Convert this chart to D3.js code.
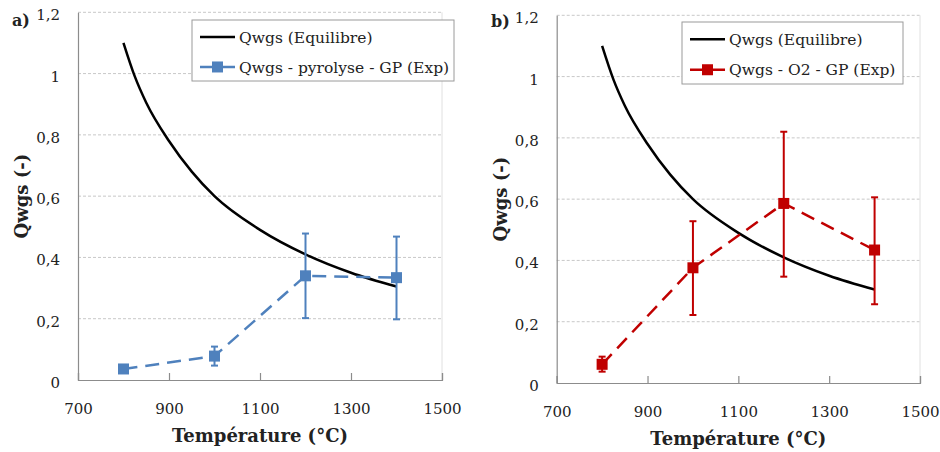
<!DOCTYPE html>
<html>
<head>
<meta charset="utf-8">
<script src="https://cdn.jsdelivr.net/npm/d3@7"></script>
<style>
  html, body { margin: 0; padding: 0; background: #fff; }
  svg { display: block; }
  text { font-family: "DejaVu Serif", serif; fill: #222; }
</style>
</head>
<body>
<svg id="chart" width="940" height="452"></svg>
<script>
// ---- Data ----
const xTicks = [700, 900, 1100, 1300, 1500];
const yTicks = [0, 0.2, 0.4, 0.6, 0.8, 1, 1.2];
const yTickLabels = ["0", "0,2", "0,4", "0,6", "0,8", "1", "1,2"];

const eqTemps = [800, 825, 850, 900, 950, 1000, 1100, 1200, 1300, 1400];
const eqValues = [1.10, 0.99, 0.905, 0.78, 0.68, 0.60, 0.49, 0.41, 0.35, 0.305];

const expTemps = [800, 1000, 1200, 1400];
const pyroValues = [0.036, 0.078, 0.340, 0.334];
const pyroErrLow = [0.036, 0.047, 0.202, 0.198];
const pyroErrHigh = [0.036, 0.109, 0.478, 0.468];

const o2Values = [0.061, 0.376, 0.586, 0.434];
const o2ErrLow = [0.037, 0.222, 0.347, 0.257];
const o2ErrHigh = [0.086, 0.528, 0.820, 0.606];

const panelLabels = ["a)", "b)"];
const legendEq = "Qwgs (Equilibre)";
const legendExp = ["Qwgs - pyrolyse - GP (Exp)", "Qwgs - O2 - GP (Exp)"];
const xTitle = "Température (°C)";
const yTitle = "Qwgs (-)";
const colors = ["#4f81bd", "#c00000"];

// ---- Drawing ----
const svg = d3.select("#chart");
const FONT = "DejaVu Serif";

function drawPanel(opt) {
  const g = svg.append("g");
  const x = d3.scaleLinear().domain([700, 1500]).range([opt.left, opt.right]);
  const y = d3.scaleLinear().domain([0, 1.2]).range([opt.bottom, opt.top]);

  // gridlines
  g.append("g").selectAll("line").data(yTicks.filter(d => d > 0)).join("line")
    .attr("x1", opt.left).attr("x2", opt.right)
    .attr("y1", d => y(d)).attr("y2", d => y(d))
    .attr("stroke", "#c8c8c8").attr("stroke-width", 1)
    .attr("stroke-dasharray", "3,2");

  // right border (faint)
  g.append("line").attr("x1", opt.right).attr("x2", opt.right)
    .attr("y1", opt.top).attr("y2", opt.bottom)
    .attr("stroke", "#e0e0e0");

  // y axis
  const yAxis = d3.axisLeft(y).tickValues(yTicks)
    .tickFormat((d, i) => yTickLabels[i]).tickSize(0).tickPadding(18);
  const ya = g.append("g").attr("transform", `translate(${opt.left},0)`).call(yAxis);
  ya.attr("font-family", FONT);
  ya.select(".domain").attr("stroke", "#8c8c8c").attr("stroke-width", 1.2);
  ya.selectAll("text").attr("font-size", 15)
    .attr("fill", "#333").attr("dy", "0.5em");

  // x axis
  const xAxis = d3.axisBottom(x).tickValues(xTicks).tickSize(-7).tickPadding(23)
    .tickFormat(d3.format("d"));
  const xa = g.append("g").attr("transform", `translate(0,${opt.bottom})`).call(xAxis);
  xa.attr("font-family", FONT);
  xa.select(".domain").attr("stroke", "#8c8c8c").attr("stroke-width", 1.2);
  xa.selectAll(".tick line").attr("stroke", "#8c8c8c").attr("stroke-width", 1.2);
  xa.selectAll("text").attr("font-size", 15).attr("fill", "#333");

  // titles
  g.append("text").attr("x", (opt.left + opt.right) / 2).attr("y", opt.bottom + 62)
    .attr("text-anchor", "middle").attr("font-weight", "bold").attr("font-size", 18)
    .attr("fill", "#111").text(xTitle);
  g.append("text")
    .attr("transform", `translate(${opt.yTitleX},${(opt.top + opt.bottom) / 2}) rotate(-90)`)
    .attr("text-anchor", "middle").attr("font-weight", "bold").attr("font-size", 18)
    .attr("fill", "#111").text(yTitle);
  g.append("text").attr("x", opt.labelX).attr("y", opt.labelY)
    .attr("font-weight", "bold").attr("font-size", 16).attr("fill", "#111").text(opt.label);

  // equilibrium curve
  const eq = eqTemps.map((t, i) => [t, eqValues[i]]);
  g.append("path").datum(eq)
    .attr("d", d3.line().x(d => x(d[0])).y(d => y(d[1])).curve(d3.curveMonotoneX))
    .attr("fill", "none").attr("stroke", "#000").attr("stroke-width", 2.5);

  // experimental
  const exp = expTemps.map((t, i) => ({ t, v: opt.values[i], lo: opt.lo[i], hi: opt.hi[i] }));
  g.append("path").datum(exp)
    .attr("d", d3.line().x(d => x(d.t)).y(d => y(d.v)))
    .attr("fill", "none").attr("stroke", opt.color).attr("stroke-width", 2.5)
    .attr("stroke-dasharray", "14,8");

  const eb = g.append("g").selectAll("g").data(exp.filter(d => d.hi > d.lo)).join("g");
  eb.append("line").attr("x1", d => x(d.t)).attr("x2", d => x(d.t))
    .attr("y1", d => y(d.lo)).attr("y2", d => y(d.hi))
    .attr("stroke", opt.color).attr("stroke-width", 2);
  [d => d.lo, d => d.hi].forEach(acc => {
    eb.append("line").attr("x1", d => x(d.t) - 3.5).attr("x2", d => x(d.t) + 3.5)
      .attr("y1", d => y(acc(d))).attr("y2", d => y(acc(d)))
      .attr("stroke", opt.color).attr("stroke-width", 2);
  });

  const ms = 11;
  g.append("g").selectAll("rect").data(exp).join("rect")
    .attr("x", d => x(d.t) - ms / 2).attr("y", d => y(d.v) - ms / 2)
    .attr("width", ms).attr("height", ms).attr("fill", opt.color);

  // legend
  const L = opt.legend;
  g.append("rect").attr("x", L.x).attr("y", L.y).attr("width", L.w).attr("height", L.h)
    .attr("fill", "#fff").attr("stroke", "#9a9a9a").attr("stroke-width", 1);
  const r1 = L.y + L.h * 0.28, r2 = L.y + L.h * 0.77;
  const lx = L.x + 8;
  g.append("line").attr("x1", lx).attr("x2", lx + 35).attr("y1", r1).attr("y2", r1)
    .attr("stroke", "#000").attr("stroke-width", 2.5);
  g.append("line").attr("x1", lx).attr("x2", lx + 35).attr("y1", r2).attr("y2", r2)
    .attr("stroke", opt.color).attr("stroke-width", 2.5).attr("stroke-dasharray", "19,4,12");
  g.append("rect").attr("x", lx + 17.5 - 5.5).attr("y", r2 - 5.5).attr("width", 11).attr("height", 11)
    .attr("fill", opt.color);
  g.append("text").attr("x", lx + 39).attr("y", r1).attr("dy", "0.36em")
    .attr("font-size", 15.5).attr("fill", "#222").text(legendEq);
  g.append("text").attr("x", lx + 39).attr("y", r2).attr("dy", "0.36em")
    .attr("font-size", 15.5).attr("fill", "#222").text(opt.legendText);
}

drawPanel({
  left: 78, right: 442, top: 12.3, bottom: 380,
  values: pyroValues, lo: pyroErrLow, hi: pyroErrHigh, color: colors[0],
  label: panelLabels[0], labelX: 12, labelY: 26, yTitleX: 28,
  legend: { x: 192, y: 20, w: 262, h: 61 }, legendText: legendExp[0]
});
drawPanel({
  left: 556.7, right: 920, top: 15.3, bottom: 383,
  values: o2Values, lo: o2ErrLow, hi: o2ErrHigh, color: colors[1],
  label: panelLabels[1], labelX: 491, labelY: 27, yTitleX: 507,
  legend: { x: 682, y: 22, w: 221, h: 62 }, legendText: legendExp[1]
});
</script>
</body>
</html>
